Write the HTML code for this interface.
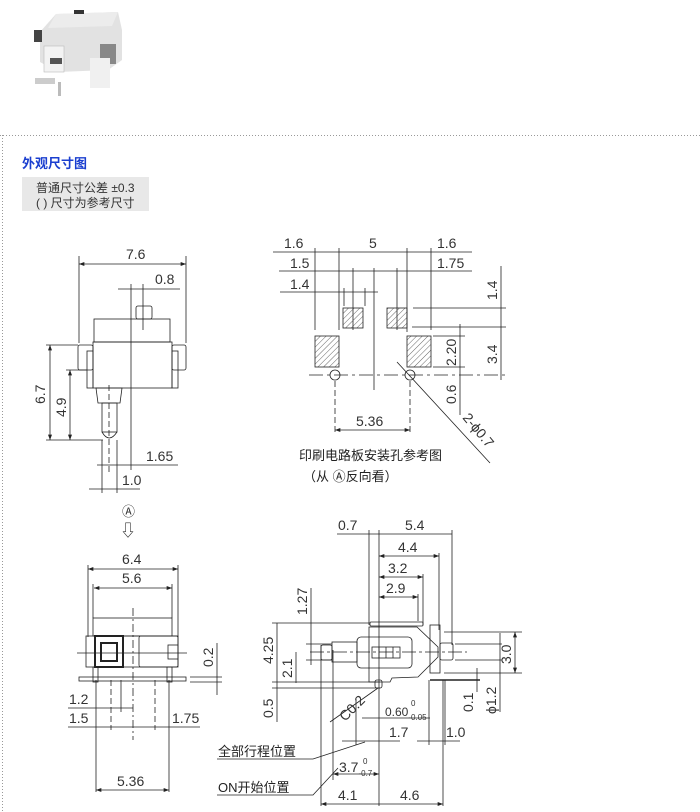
<!DOCTYPE html>
<html><head><meta charset="utf-8"><style>
body{margin:0;background:#fff;width:700px;height:812px;overflow:hidden;font-family:"Liberation Sans","Noto Sans CJK SC",sans-serif}
svg{position:absolute;left:0;top:0}
</style></head><body>
<svg width="700" height="812" viewBox="0 0 700 812" xmlns="http://www.w3.org/2000/svg" font-family="Liberation Sans, Noto Sans CJK SC, sans-serif">
<defs>
<pattern id="h" width="4" height="4" patternUnits="userSpaceOnUse" patternTransform="rotate(45)"><line x1="0" y1="0" x2="0" y2="4" stroke="#444" stroke-width="0.8"/></pattern>
<marker id="a" viewBox="0 0 8 6" refX="8" refY="3" markerWidth="7" markerHeight="5" orient="auto-start-reverse"><path d="M0,0 L8,3 L0,6z" fill="#222"/></marker>
</defs>
<!-- photo -->
<g>
<polygon points="40,32 56,14 118,12 122,30 122,60 108,70 58,72 40,62" fill="#e2e2e2"/>
<polygon points="56,14 118,12 112,26 48,28" fill="#ececec"/>
<rect x="34" y="30" width="8" height="12" fill="#444"/>
<rect x="74" y="10" width="10" height="4" fill="#333"/>
<rect x="44" y="46" width="20" height="26" fill="#f3f3f3" stroke="#bbb" stroke-width="0.6"/>
<rect x="50" y="58" width="12" height="6" fill="#555"/>
<rect x="100" y="44" width="16" height="20" fill="#888"/>
<rect x="90" y="58" width="20" height="30" fill="#f0f0f0"/>
<rect x="35" y="78" width="20" height="6" fill="#ccc"/>
<rect x="58" y="82" width="3" height="14" fill="#bbb"/>
</g>
<line x1="0" y1="135.5" x2="700" y2="135.5" stroke="#999" stroke-dasharray="1,2"/>
<line x1="2.5" y1="135" x2="2.5" y2="812" stroke="#999" stroke-dasharray="1,2"/>
<text x="22" y="168" font-size="13" font-weight="bold" fill="#1a3ecf">外观尺寸图</text>
<rect x="22" y="177" width="127" height="34" fill="#e8e8e8"/>
<text x="36" y="192" font-size="12" fill="#333">普通尺寸公差 ±0.3</text>
<text x="36" y="207" font-size="12" fill="#333">( ) 尺寸为参考尺寸</text>

<g stroke="#222" stroke-width="0.8" fill="none">
<!-- view 1 -->
<line x1="79" y1="256" x2="79" y2="343"/><line x1="186" y1="256" x2="186" y2="343"/>
<line x1="79" y1="264" x2="186" y2="264" marker-start="url(#a)" marker-end="url(#a)"/>
<line x1="118" y1="289" x2="180" y2="289"/>
<line x1="131" y1="284" x2="131" y2="470"/>
<line x1="143" y1="284" x2="143" y2="330"/>
<rect x="94" y="319" width="76" height="23"/>
<rect x="136" y="306" width="16" height="13" rx="2"/>
<rect x="93" y="342" width="79" height="46"/>
<rect x="78" y="345" width="15" height="25" rx="2"/>
<rect x="172" y="345" width="14" height="25" rx="2"/>
<rect x="87" y="351" width="6" height="37"/><rect x="172" y="351" width="6" height="37"/>
<polygon points="96,388 122,388 120,403 98,403"/>
<rect x="102" y="403" width="15" height="29"/>
<path d="M102,432 Q109,444 117,432"/>
<line x1="46" y1="345" x2="78" y2="345"/><line x1="66" y1="370" x2="87" y2="370"/><line x1="46" y1="440" x2="103" y2="440"/>
<line x1="50" y1="345" x2="50" y2="440" marker-start="url(#a)" marker-end="url(#a)"/><line x1="70" y1="370" x2="70" y2="440" marker-start="url(#a)" marker-end="url(#a)"/>
<line x1="102" y1="440" x2="102" y2="493"/><line x1="117" y1="440" x2="117" y2="493"/>
<line x1="109" y1="385" x2="109" y2="472" stroke-dasharray="6,3"/>
<line x1="97" y1="465" x2="178" y2="465"/>
<line x1="89" y1="489" x2="140" y2="489"/>
<!-- view 2 -->
<line x1="273" y1="252" x2="472" y2="252"/>
<line x1="279" y1="271" x2="472" y2="271"/>
<line x1="280" y1="292" x2="378" y2="292"/>
<line x1="315" y1="248" x2="315" y2="330"/><line x1="339" y1="248" x2="339" y2="330"/>
<line x1="407" y1="248" x2="407" y2="332"/><line x1="431" y1="248" x2="431" y2="330"/>
<line x1="353" y1="268" x2="353" y2="330"/><line x1="374" y1="268" x2="374" y2="390"/>
<line x1="397" y1="268" x2="397" y2="330"/>
<line x1="344" y1="288" x2="344" y2="306"/><line x1="365" y1="288" x2="365" y2="306"/>
<rect x="343" y="308" width="20" height="20" fill="url(#h)"/>
<rect x="387" y="308" width="20" height="20" fill="url(#h)"/>
<rect x="315" y="336" width="24" height="31" fill="url(#h)"/>
<rect x="407" y="336" width="24" height="31" fill="url(#h)"/>
<circle cx="335" cy="375" r="5"/><circle cx="410" cy="375" r="5"/>
<line x1="309" y1="375" x2="506" y2="375" stroke-dasharray="14,4,3,4"/>
<line x1="335" y1="381" x2="335" y2="432" stroke-dasharray="6,3"/><line x1="410" y1="381" x2="410" y2="432" stroke-dasharray="6,3"/>
<line x1="413" y1="308" x2="506" y2="308"/><line x1="412" y1="327" x2="506" y2="327"/>
<line x1="433" y1="336" x2="465" y2="336"/><line x1="433" y1="367" x2="465" y2="367"/>
<line x1="501" y1="266" x2="501" y2="380"/><line x1="460" y1="324" x2="460" y2="415"/>
<line x1="335" y1="430" x2="410" y2="430" marker-start="url(#a)" marker-end="url(#a)"/>
<line x1="397" y1="362" x2="490" y2="463"/>
<!-- view 3 -->
<line x1="88" y1="565" x2="88" y2="637"/><line x1="178" y1="565" x2="178" y2="637"/>
<line x1="93" y1="584" x2="93" y2="618"/><line x1="172" y1="584" x2="172" y2="618"/>
<line x1="88" y1="569" x2="178" y2="569" marker-start="url(#a)" marker-end="url(#a)"/><line x1="94" y1="588" x2="172" y2="588" marker-start="url(#a)" marker-end="url(#a)"/>
<rect x="93" y="618" width="79" height="18"/>
<rect x="86" y="636" width="92" height="31"/>
<rect x="95" y="636" width="28" height="31" stroke-width="2"/>
<rect x="101" y="643" width="16" height="18" stroke-width="2"/>
<rect x="139" y="636" width="39" height="31" rx="2"/>
<rect x="168" y="645" width="10" height="14"/>
<rect x="79" y="677" width="107" height="4"/>
<rect x="93" y="667" width="5" height="15"/><rect x="167" y="667" width="5" height="15"/>
<line x1="133" y1="608" x2="133" y2="740" stroke-dasharray="8,3,2,3"/>
<line x1="77" y1="653" x2="187" y2="653"/>
<line x1="190" y1="677" x2="222" y2="677"/><line x1="190" y1="682" x2="222" y2="682"/>
<line x1="217" y1="643" x2="217" y2="695"/>
<line x1="96" y1="680" x2="96" y2="792"/><line x1="111" y1="680" x2="111" y2="730" stroke-dasharray="6,3"/>
<line x1="121" y1="680" x2="121" y2="712"/><line x1="155" y1="680" x2="155" y2="730" stroke-dasharray="6,3"/>
<line x1="169" y1="680" x2="169" y2="792"/>
<line x1="68" y1="708" x2="133" y2="708"/><line x1="68" y1="727" x2="200" y2="727"/>
<line x1="96" y1="790" x2="169" y2="790" marker-start="url(#a)" marker-end="url(#a)"/>
<!-- view 4 -->
<line x1="337" y1="534" x2="452" y2="534"/>
<line x1="369" y1="530" x2="369" y2="625"/><line x1="379" y1="530" x2="379" y2="806"/>
<line x1="452" y1="530" x2="452" y2="645"/>
<line x1="379" y1="556" x2="439" y2="556" marker-start="url(#a)" marker-end="url(#a)"/><line x1="439" y1="553" x2="439" y2="630"/>
<line x1="379" y1="577" x2="423" y2="577" marker-start="url(#a)" marker-end="url(#a)"/><line x1="423" y1="574" x2="423" y2="625"/>
<line x1="379" y1="597" x2="418" y2="597" marker-start="url(#a)" marker-end="url(#a)"/><line x1="418" y1="594" x2="418" y2="621"/>
<rect x="370" y="622" width="53" height="4" rx="1"/>
<polygon points="369,627 417,627 438,647 438,657 418,677 392,678 390,682 369,682"/>
<rect x="357" y="637" width="55" height="31" rx="4"/>
<rect x="332" y="642" width="25" height="20"/>
<rect x="321" y="645" width="11" height="15" rx="2"/>
<rect x="440" y="643" width="13" height="17" rx="2"/>
<rect x="372" y="647" width="28" height="11"/>
<line x1="379" y1="647" x2="379" y2="658"/><line x1="386" y1="647" x2="386" y2="658"/><line x1="393" y1="647" x2="393" y2="658"/>
<rect x="430" y="625" width="10" height="48"/>
<rect x="375" y="680" width="7" height="8" rx="2"/>
<line x1="430" y1="680" x2="480" y2="680" stroke-width="1.6"/>
<line x1="310" y1="652" x2="467" y2="652" stroke-dasharray="14,3,3,3"/>
<line x1="444" y1="632" x2="522" y2="632"/><line x1="444" y1="673" x2="522" y2="673"/>
<line x1="515" y1="632" x2="515" y2="673" marker-start="url(#a)" marker-end="url(#a)"/>
<line x1="455" y1="644" x2="502" y2="644"/><line x1="455" y1="660" x2="502" y2="660"/>
<line x1="500" y1="633" x2="500" y2="712"/>
<line x1="477" y1="668" x2="477" y2="692"/>
<line x1="272" y1="623" x2="369" y2="623"/><line x1="306" y1="644" x2="332" y2="644"/>
<line x1="306" y1="660" x2="332" y2="660"/>
<line x1="272" y1="682" x2="380" y2="682"/><line x1="272" y1="688" x2="380" y2="688"/>
<line x1="277" y1="623" x2="277" y2="722"/><line x1="311" y1="588" x2="311" y2="665"/>
<line x1="296" y1="652" x2="296" y2="683"/>
<line x1="330" y1="722" x2="378" y2="688"/>
<line x1="362" y1="718" x2="430" y2="718"/>
<line x1="342" y1="741" x2="400" y2="741"/><line x1="417" y1="741" x2="460" y2="741"/>
<line x1="356" y1="700" x2="356" y2="745"/><line x1="429" y1="680" x2="429" y2="745"/>
<line x1="445" y1="680" x2="445" y2="745"/>
<line x1="321" y1="645" x2="321" y2="806"/><line x1="443" y1="680" x2="443" y2="806"/>
<line x1="333" y1="650" x2="333" y2="780"/>
<line x1="333" y1="774" x2="379" y2="774" marker-start="url(#a)" marker-end="url(#a)"/>
<line x1="321" y1="804" x2="443" y2="804" marker-start="url(#a)" marker-end="url(#a)"/>
<polyline points="217,759 313,759 365,742"/>
<polyline points="217,795 313,795 338,768"/>
</g>
<g font-size="14" fill="#333">
<text x="126" y="259">7.6</text><text x="155" y="284">0.8</text>
<text x="146" y="461">1.65</text><text x="122" y="485">1.0</text>
<text transform="translate(45,404) rotate(-90)">6.7</text>
<text transform="translate(66,417) rotate(-90)">4.9</text>
<text x="284" y="248">1.6</text><text x="369" y="248">5</text><text x="437" y="248">1.6</text>
<text x="290" y="268">1.5</text><text x="437" y="268">1.75</text><text x="290" y="289">1.4</text>
<text x="356" y="426">5.36</text>
<text transform="translate(497,300) rotate(-90)">1.4</text>
<text transform="translate(497,364) rotate(-90)">3.4</text>
<text transform="translate(456,366) rotate(-90)">2.20</text>
<text transform="translate(456,404) rotate(-90)">0.6</text>
<text transform="translate(462,418) rotate(50)">2-ϕ0.7</text>
<text x="299" y="460" font-size="13" fill="#222">印刷电路板安装孔参考图</text>
<text x="303" y="481" font-size="13" fill="#222">（从 Ⓐ反向看）</text>
<text x="122" y="516" font-size="13">Ⓐ</text><text x="120" y="536" font-size="16">⇩</text>
<text x="122" y="564">6.4</text><text x="122" y="583">5.6</text>
<text transform="translate(213,667) rotate(-90)">0.2</text>
<text x="69" y="704">1.2</text><text x="69" y="723">1.5</text><text x="172" y="723">1.75</text>
<text x="117" y="786">5.36</text>
<text x="338" y="530">0.7</text><text x="405" y="530">5.4</text>
<text x="398" y="552">4.4</text><text x="388" y="573">3.2</text><text x="386" y="593">2.9</text>
<text transform="translate(273,664) rotate(-90)">4.25</text>
<text transform="translate(307,615) rotate(-90)">1.27</text>
<text transform="translate(292,678) rotate(-90)">2.1</text>
<text transform="translate(273,718) rotate(-90)">0.5</text>
<text transform="translate(511,664) rotate(-90)">3.0</text>
<text transform="translate(496,714) rotate(-90)">ϕ1.2</text>
<text transform="translate(473,712) rotate(-90)">0.1</text>
<text transform="translate(345,722) rotate(-45)">C0.2</text>
<text x="385" y="716" font-size="12">0.60<tspan font-size="8" dy="4">-0.05</tspan></text>
<text x="411" y="706" font-size="8">0</text>
<text x="389" y="737">1.7</text><text x="446" y="737">1.0</text>
<text x="339" y="772">3.7<tspan font-size="8" dy="4">-0.7</tspan></text>
<text x="363" y="764" font-size="8">0</text>
<text x="338" y="800">4.1</text><text x="400" y="800">4.6</text>
<text x="218" y="756" font-size="13" fill="#222">全部行程位置</text>
<text x="218" y="792" font-size="13" fill="#222">ON开始位置</text>
</g>
</svg>
</body></html>
